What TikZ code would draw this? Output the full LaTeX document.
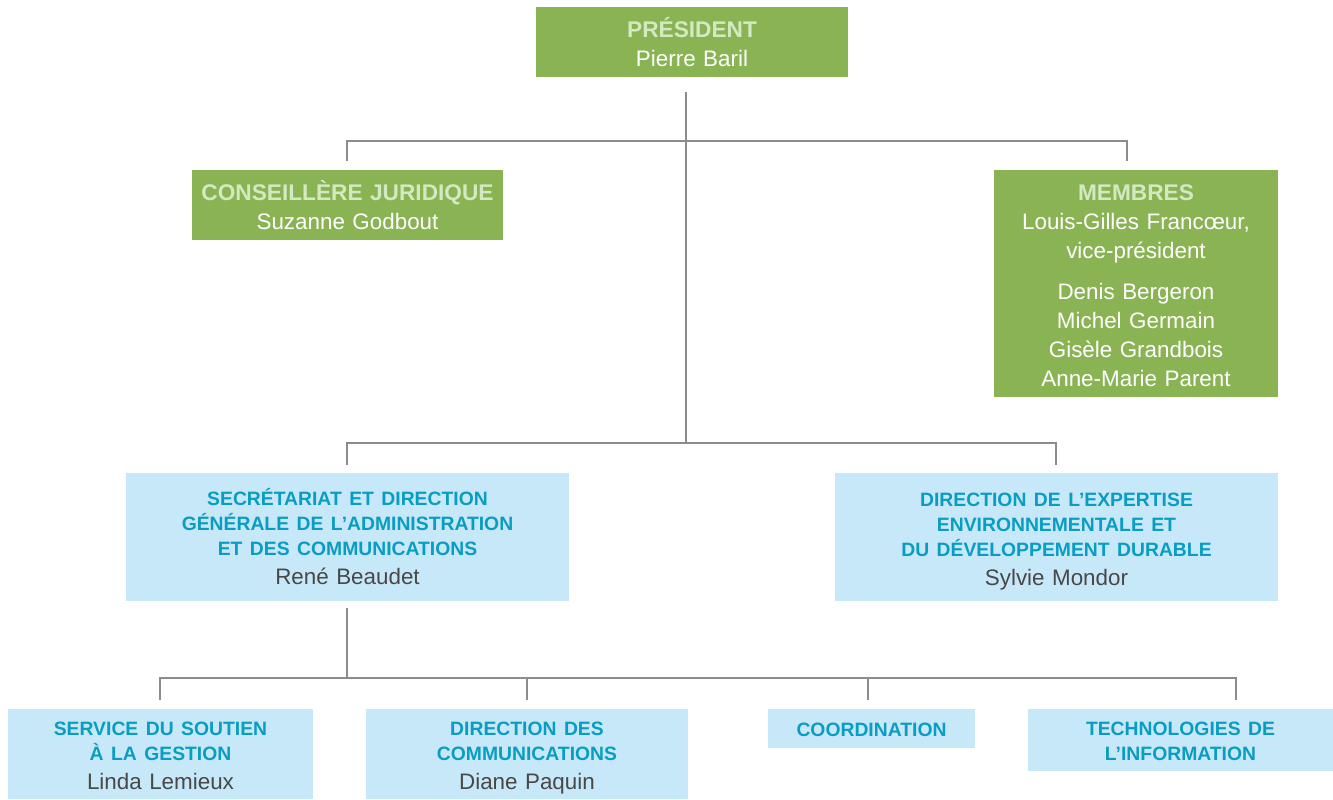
\documentclass[tikz,border=0pt]{standalone}
\usepackage{fontspec}
\setmainfont{Liberation Sans}
\usepackage{tikz}
\usetikzlibrary{positioning}

\definecolor{boxgreen}{RGB}{138,180,84}
\definecolor{titlegreen}{RGB}{212,232,194}
\definecolor{boxblue}{RGB}{199,232,248}
\definecolor{titleblue}{RGB}{10,157,196}
\definecolor{namegray}{RGB}{72,72,72}
\definecolor{linkgray}{RGB}{140,140,140}

% first line always as tall as an accented capital
\newcommand{\gtitle}[1]{{\color{titlegreen}\bfseries\fontsize{17}{21.75}\selectfont
  \vphantom{É}#1\par}}
\newcommand{\btitle}[1]{{\color{titleblue}\bfseries\fontsize{14.5}{18.75}\selectfont
  \vphantom{É}#1\par}}

\begin{document}
\begin{tikzpicture}[
    x=0.75pt, y=-0.75pt,
    box/.style = {
      inner sep = 0pt, outer sep = 0pt, align = center,
      fontsize = {16.8}{21.75},
    },
    fontsize/.style 2 args = {font=\fontsize{#1}{#2}\selectfont},
    size/.style 2 args = {minimum width=#1*0.75pt, text width=#1*0.75pt,
      minimum height=#2*0.75pt},
    greenbox/.style = {box, fill=boxgreen, text=white},
    bluebox/.style = {box, fill=boxblue, text=namegray},
    link/.style = {draw=linkgray, line width=0.9pt},
  ]
  \useasboundingbox (0,0) rectangle (1333,799);

  % top level
  \node[greenbox, size={312}{70}]
    (pres) at (692,42) {\gtitle{PRÉSIDENT} Pierre Baril};

  \node[greenbox, size={311}{70}]
    (jurid) at (347.5,205) {\gtitle{CONSEILLÈRE JURIDIQUE} Suzanne Godbout};

  \node[greenbox, size={284}{227}]
    (memb) at (1136,283.5) {\gtitle{MEMBRES}
      Louis-Gilles Francœur,\\ vice-président\\[9.5pt]
      Denis Bergeron\\ Michel Germain\\ Gisèle Grandbois\\ Anne-Marie Parent};

  % directions
  \node[bluebox, size={443}{128}]
    (secr) at (347.5,537) {\btitle{SECRÉTARIAT ET DIRECTION\\
      GÉNÉRALE DE L’ADMINISTRATION\\ ET DES COMMUNICATIONS} René Beaudet};

  \node[bluebox, size={443}{128}]
    (expert) at (1056.5,537) {\btitle{DIRECTION DE L’EXPERTISE\\
      ENVIRONNEMENTALE ET\\ DU DÉVELOPPEMENT DURABLE} \smash{Sylvie Mondor}};

  % services
  \node[bluebox, size={305}{90}]
    (soutien) at (160.5,754) {\btitle{SERVICE DU SOUTIEN\\ À LA GESTION} Linda Lemieux};

  \node[bluebox, size={322}{90}]
    (comm) at (527,754) {\btitle{DIRECTION DES\\ COMMUNICATIONS} \smash{Diane Paquin}};

  \node[bluebox, size={207}{39}]
    (coord) at (871.5,728.5) {\btitle{COORDINATION}};

  \node[bluebox, size={305}{62}]
    (techno) at (1180.5,740) {\btitle{TECHNOLOGIES DE\\ L’INFORMATION}};

  % connectors
  \coordinate (trunk) at (686,92);
  \coordinate (split) at (686,443);
  \coordinate (jurid-in) at (347,161);
  \coordinate (memb-in) at (1127,161);
  \coordinate (secr-in) at (347,465);
  \coordinate (expert-in) at (1056,465);
  \coordinate (secr-out) at (347,608);
  \coordinate (soutien-in) at (160,700);
  \coordinate (comm-in) at (527,700);
  \coordinate (coord-in) at (868,700);
  \coordinate (techno-in) at (1236,700);

  \draw[link] (trunk) -- (split);
  \draw[link] (jurid-in) -- ++(0,-20) -| (memb-in);
  \draw[link] (secr-in) -- ++(0,-22) -| (expert-in);

  \draw[link] (secr-out) -- (347,678);
  \draw[link] (soutien-in) -- ++(0,-22) -| (techno-in);
  \draw[link] (comm-in) -- ++(0,-22);
  \draw[link] (coord-in) -- ++(0,-22);
\end{tikzpicture}
\end{document}
